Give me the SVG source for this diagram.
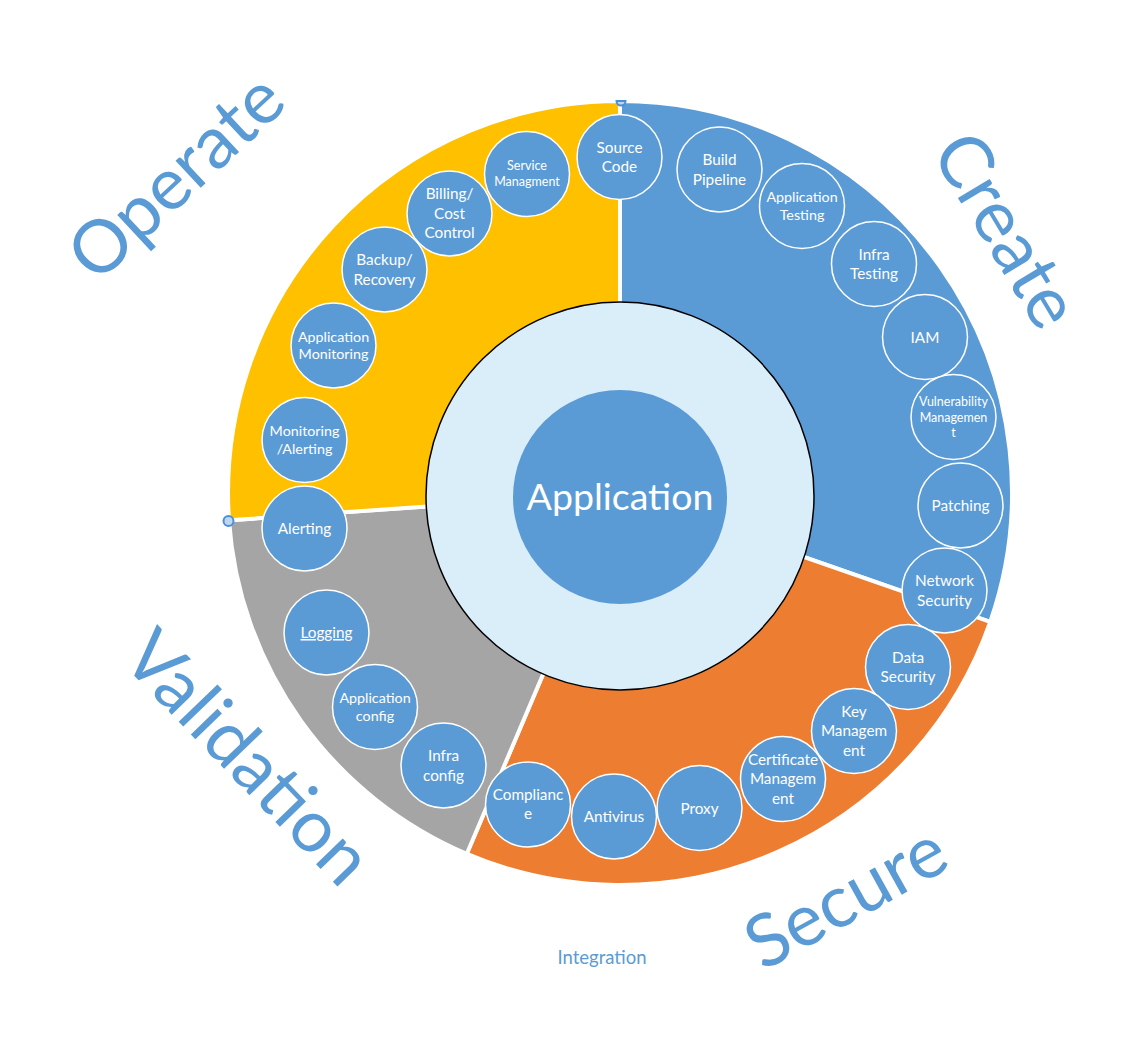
<svg xmlns="http://www.w3.org/2000/svg" width="1141" height="1051" viewBox="0 0 1141 1051">
<style>
.seg{stroke:#fff;stroke-width:4;stroke-linejoin:miter}
.n circle{fill:#5B9BD5;stroke:#fff;stroke-width:1.5}
.n text{font-family:Lato,"Liberation Sans",sans-serif;font-size:15.3px;fill:#fff;text-anchor:middle}
.n text.m{font-size:14.3px}
.n text.s{font-size:12.5px}
.big{font-family:Lato,"Liberation Sans",sans-serif;font-size:73px;fill:#5B9BD5;text-anchor:middle}
.mk{fill:#BDD7EE;stroke:#4A90D9;stroke-width:2}
</style>
<rect width="1141" height="1051" fill="#fff"/>
<g id="ring">
<path id="seg-create" class="seg" fill="#5B9BD5" d="M620,493 L620,101 A392,392 0 0 1 990.2,621.9 Z"/>
<path id="seg-secure" class="seg" fill="#ED7D31" d="M620,493 L990.2,621.9 A392,392 0 0 1 466.8,853.8 Z"/>
<path id="seg-validation" class="seg" fill="#A5A5A5" d="M620,493 L466.8,853.8 A392,392 0 0 1 229,520.3 Z"/>
<path id="seg-operate" class="seg" fill="#FFC000" d="M620,493 L229,520.3 A392,392 0 0 1 620,101 Z"/>
</g>
<path class="mk" d="M616.5,101 A4.5,4.5 0 0 0 625.5,101 Z"/>
<circle class="mk" cx="228.5" cy="521" r="5"/>
<g id="hub">
<circle cx="620" cy="496" r="194" fill="#DAEEF9" stroke="#000" stroke-width="1.5"/>
<circle cx="620" cy="497" r="107" fill="#5B9BD5"/>
<text x="620" y="510" font-family="Lato,'Liberation Sans',sans-serif" font-size="37.5" fill="#fff" text-anchor="middle">Application</text>
</g>
<g id="connectors"></g>
<g id="n-source" class="n"><circle cx="619.5" cy="157" r="42.5"/><text x="619.5" y="152.5">Source</text><text x="619.5" y="172">Code</text></g>
<g id="n-build" class="n"><circle cx="719.5" cy="169.5" r="42.5"/><text x="719.5" y="165">Build</text><text x="719.5" y="184.5">Pipeline</text></g>
<g id="n-apptest" class="n"><circle cx="802" cy="206" r="42.5"/><text class="m" x="802" y="202">Application</text><text class="m" x="802" y="219.5">Testing</text></g>
<g id="n-infratest" class="n"><circle cx="874" cy="264" r="42.5"/><text x="874" y="259.5">Infra</text><text x="874" y="279">Testing</text></g>
<g id="n-iam" class="n"><circle cx="925" cy="337" r="42.5"/><text x="925" y="342.5">IAM</text></g>
<g id="n-vuln" class="n"><circle cx="953.5" cy="417" r="42.5"/><text class="s" x="953.5" y="406">Vulnerability</text><text class="s" x="953.5" y="421.7">Managemen</text><text class="s" x="953.5" y="437">t</text></g>
<g id="n-patch" class="n"><circle cx="960.5" cy="505.5" r="42.5"/><text x="960.5" y="511">Patching</text></g>
<g id="n-netsec" class="n"><circle cx="944.5" cy="590.5" r="42.5"/><text x="944.5" y="586">Network</text><text x="944.5" y="605.5">Security</text></g>
<g id="n-datasec" class="n"><circle cx="908" cy="667" r="42.5"/><text x="908" y="662.5">Data</text><text x="908" y="682">Security</text></g>
<g id="n-key" class="n"><circle cx="854" cy="731" r="42.5"/><text x="854" y="716.5">Key</text><text x="854" y="736">Managem</text><text x="854" y="755.5">ent</text></g>
<g id="n-cert" class="n"><circle cx="783" cy="779" r="42.5"/><text x="783" y="764.5">Certificate</text><text x="783" y="784">Managem</text><text x="783" y="803.5">ent</text></g>
<g id="n-proxy" class="n"><circle cx="699.5" cy="808" r="42.5"/><text x="699.5" y="813.5">Proxy</text></g>
<g id="n-antivirus" class="n"><circle cx="614" cy="816.5" r="42.5"/><text x="614" y="822">Antivirus</text></g>
<g id="n-compliance" class="n"><circle cx="528" cy="804.5" r="42.5"/><text x="528" y="800">Complianc</text><text x="528" y="818.5">e</text></g>
<g id="n-infraconf" class="n"><circle cx="443.5" cy="765.5" r="42.5"/><text x="443.5" y="761">Infra</text><text x="443.5" y="780.5">config</text></g>
<g id="n-appconf" class="n"><circle cx="375" cy="707" r="42.5"/><text class="m" x="375" y="703">Application</text><text class="m" x="375" y="721">config</text></g>
<g id="n-logging" class="n"><circle cx="326.5" cy="632.5" r="42.5"/><text x="326.5" y="638" text-decoration="underline">Logging</text></g>
<g id="n-alerting" class="n"><circle cx="304.5" cy="528.5" r="42.5"/><text x="304.5" y="534">Alerting</text></g>
<g id="n-monalert" class="n"><circle cx="304.5" cy="440" r="42.5"/><text class="m" x="304.5" y="436">Monitoring</text><text class="m" x="304.5" y="454">/Alerting</text></g>
<g id="n-appmon" class="n"><circle cx="333.5" cy="345.5" r="42.5"/><text class="m" x="333.5" y="341.5">Application</text><text class="m" x="333.5" y="359.3">Monitoring</text></g>
<g id="n-backup" class="n"><circle cx="384.5" cy="269.5" r="42.5"/><text x="384.5" y="265">Backup/</text><text x="384.5" y="284.5">Recovery</text></g>
<g id="n-billing" class="n"><circle cx="449.5" cy="213.5" r="42.5"/><text x="449.5" y="199">Billing/</text><text x="449.5" y="218.5">Cost</text><text x="449.5" y="238">Control</text></g>
<g id="n-service" class="n"><circle cx="527" cy="174" r="42.5"/><text class="s" x="527" y="170">Service</text><text class="s" x="527" y="185.7">Managment</text></g>
<g id="labels">
<text class="big" transform="translate(193,195) rotate(-43)">Operate</text>
<text class="big" transform="translate(985,243) rotate(59)">Create</text>
<text class="big" transform="translate(230,775) rotate(46)">Validation</text>
<text class="big" transform="translate(858,919) rotate(-29)">Secure</text>
<text x="602" y="964" font-family="Lato,'Liberation Sans',sans-serif" font-size="18.5" fill="#5B9BD5" text-anchor="middle">Integration</text>
</g>
</svg>
